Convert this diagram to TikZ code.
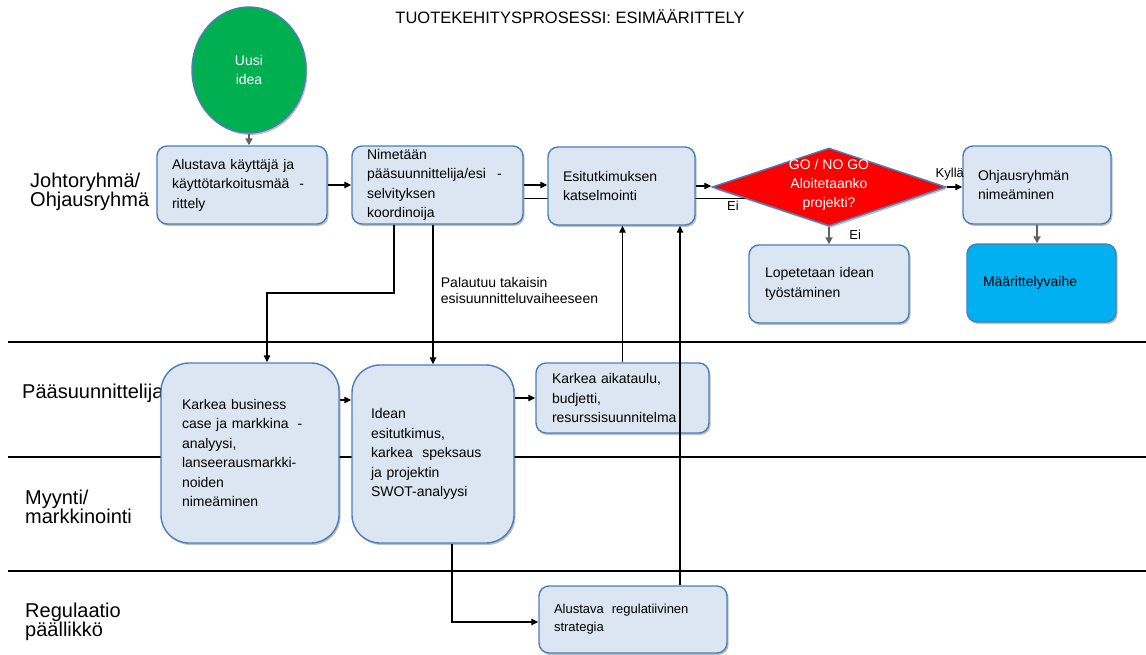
\documentclass[tikz,border=0pt]{standalone}
\usepackage{fontspec}
\setmainfont{Liberation Sans}
\usetikzlibrary{shapes.geometric,arrows.meta,backgrounds,shadows,calc}
\definecolor{boxfill}{HTML}{DCE6F2}
\definecolor{bord}{HTML}{4A7EBB}
\definecolor{ideagreen}{HTML}{00B050}
\definecolor{phasecyan}{HTML}{00B0F0}
\definecolor{garrow}{HTML}{606060}
\begin{document}
\begin{tikzpicture}[x=1pt,y=-1pt,
  box/.style={draw=bord, fill=boxfill, line width=1.4pt, rounded corners=10pt,
    align=left, inner ysep=0pt, inner xsep=15pt,
    font=\fontsize{14}{19.5}\selectfont,
    drop shadow={shadow xshift=1.5pt, shadow yshift=-2pt, opacity=0.25, fill=black}},
  arr/.style={line width=1.1pt, -{Triangle[length=7pt,width=6.5pt]}},
  garr/.style={draw=garrow, line width=1.8pt, -{Triangle[length=7pt,width=7pt]}, garrow},
  lane/.style={line width=2pt},
  lanelab/.style={font=\fontsize{20}{19.5}\selectfont, align=left, anchor=west, inner sep=0pt},
  small/.style={font=\fontsize{13}{14}\selectfont, inner sep=1.5pt, text=black},
]
\useasboundingbox (0,0) rectangle (1146,655);

% title
\node[font=\fontsize{16.5}{17}\selectfont] (title) at (570,17) {TUOTEKEHITYSPROSESSI: ESIMÄÄRITTELY};

% lane labels
\node[lanelab] (l1) at (30,192) {Johtoryhmä/\\Ohjausryhmä};
\node[lanelab] (l2) at (22,393) {Pääsuunnittelija};
\node[lanelab] (l3) at (25,507) {Myynti/\\markkinointi};
\node[lanelab] (l4) at (25,622) {Regulaatio\\päällikkö};

% lane lines
\coordinate (ls1) at (8,342);  \coordinate (le1) at (1146,342);
\coordinate (ls2) at (8,457);  \coordinate (le2) at (1146,457);
\coordinate (ls3) at (8,571);  \coordinate (le3) at (1146,571);
\draw[lane] (ls1) -- (le1);
\draw[lane] (ls2) -- (le2);
\draw[lane] (ls3) -- (le3);

% start
\node[ellipse, draw=bord, line width=1.4pt, fill=ideagreen, minimum width=114pt, minimum height=126pt,
  text=white, align=center, font=\fontsize{14}{19}\selectfont,
  drop shadow={shadow xshift=1.5pt, shadow yshift=-2pt, opacity=0.25, fill=black}] (circ) at (249,70) {Uusi\\idea};

% row 1
\node[box, minimum width=170pt, minimum height=78pt, text width=140pt] (b1) at (242,185)
  {Alustava käyttäjä ja\\käyttötarkoitusmää\hspace{10pt}-\\rittely};
\node[box, minimum width=171pt, minimum height=78pt, text width=141pt] (b2) at (437.5,185)
  {Nimetään\\pääsuunnittelija/esi\hspace{11pt}-\\selvityksen\\koordinoija};
\node[box, minimum width=147pt, minimum height=78pt, text width=117pt] (b3) at (621.5,186)
  {Esitutkimuksen\\katselmointi};
\node[diamond, draw=bord, line width=1.4pt, fill=red, minimum width=234pt, minimum height=78pt,
  inner sep=0pt, aspect=3,
  drop shadow={shadow xshift=1.5pt, shadow yshift=-2pt, opacity=0.25, fill=black}] (dia) at (829,187) {};
\node[text=white, align=center, font=\fontsize{14}{19}\selectfont, inner sep=0pt] (diat) at (829,185)
  {GO / NO GO\\Aloitetaanko\\projekti?};
\node[box, minimum width=148pt, minimum height=78pt, text width=118pt] (ohj) at (1037,185)
  {Ohjausryhmän\\nimeäminen};

% row 1b
\node[box, minimum width=158pt, minimum height=78pt, text width=128pt, inner xsep=16pt] (lop) at (829,284)
  {Lopetetaan idean\\työstäminen};
\node[box, fill=phasecyan, minimum width=149pt, minimum height=78pt, text width=117pt, inner xsep=16pt] (maar) at (1041.5,283)
  {Määrittelyvaihe};

% row 2
\node[box, rounded corners=28pt, minimum width=178pt, minimum height=180pt, text width=136pt, inner xsep=21pt] (kb) at (250,453)
  {Karkea business\\case ja markkina\hspace{9pt}-\\analyysi,\\lanseerausmarkki-\\noiden\\nimeäminen};
\node[box, rounded corners=28pt, minimum width=162pt, minimum height=178pt, text width=124pt, inner xsep=19pt] (id) at (433,454)
  {Idean\\esitutkimus,\\karkea\ \ speksaus\\ja projektin\\SWOT-analyysi};
\node[box, minimum width=173pt, minimum height=70pt, text width=141pt, inner xsep=16pt] (ka) at (622.5,398)
  {Karkea aikataulu,\\budjetti,\\resurssisuunnitelma};
\node[box, minimum width=188pt, minimum height=67pt, text width=158pt, font=\fontsize{13}{18}\selectfont] (reg) at (633,619.5)
  {Alustava\hspace{8pt}regulatiivinen\\strategia};

% connectors
\begin{scope}[on background layer]
  \draw[line width=1.1pt] (dia.188) -- (dia.188 -| b2.east);
\end{scope}
\node[small, anchor=north] (ei1) at ([xshift=-96pt, yshift=-12pt]dia.center) {Ei};
\draw[garr] (circ.south) -- (circ.south |- b1.north);
\draw[arr] (b1.east) -- (b2.west);
\draw[arr] (b2.east) -- (b2.east -| b3.west);
\draw[arr] (b3.east) -- (b3.east -| dia.west);
\draw[arr] (dia.east) -- (dia.east -| ohj.west) node[pos=0.2, above, yshift=5pt, small] (kylla) {Kyllä};
\draw[garr] (dia.south) -- (dia.south |- lop.north) node[pos=0.45, right=18pt, small] (ei2) {Ei};
\draw[garr] (ohj.south) -- (ohj.south |- maar.north);

\coordinate (dl) at ([xshift=-43.5pt]b2.south);
\coordinate (dr) at ([xshift=-4.5pt]b2.south);
\coordinate (t1) at (267,293);
\draw[arr] (dl) |- (t1) -- (t1 |- kb.north);
\draw[arr] (dr) -- (dr |- id.north)
  node[pos=0.47, right=4pt, align=left, font=\fontsize{14}{16}\selectfont] (pal) {Palautuu takaisin\\esisuunnitteluvaiheeseen};

\draw[arr] ([yshift=53pt]kb.east) -- ([yshift=53pt]kb.east -| id.west);
\draw[arr] (id.east |- ka.west) -- (ka.west);
\draw[arr] (ka.north) -- (ka.north |- b3.south);
\coordinate (up2) at ([xshift=58.5pt]b3.south);
\draw[arr] (up2 |- reg.north) -- (up2);
\coordinate (d1) at ([xshift=19pt]id.south);
\draw[arr] (d1) |- ([yshift=-2.5pt]reg.west);
\end{tikzpicture}
\end{document}
